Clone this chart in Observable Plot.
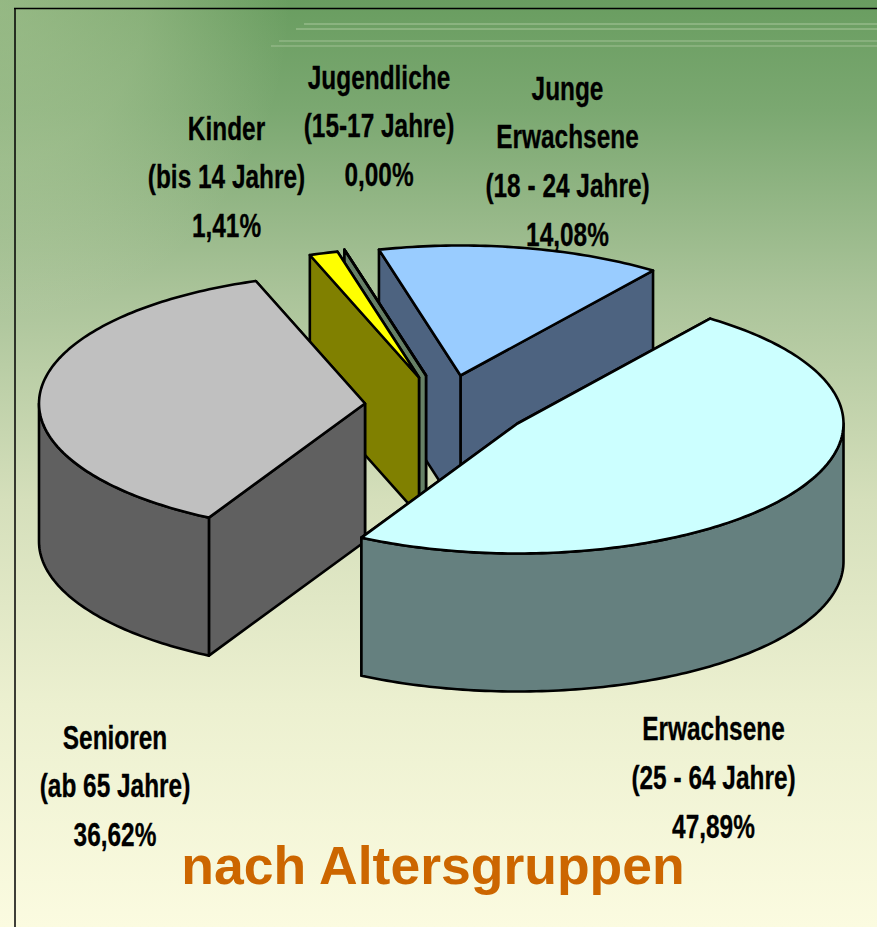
<!DOCTYPE html>
<html lang="de">
<head>
<meta charset="utf-8">
<title>nach Altersgruppen</title>
<script src="https://cdn.jsdelivr.net/npm/d3@7"></script>
<script src="https://cdn.jsdelivr.net/npm/@observablehq/plot@0.6"></script>
<style>
html,body{margin:0;padding:0;width:877px;height:927px;overflow:hidden}
body{background:
 radial-gradient(ellipse 290px 320px at 0 0, rgba(215,225,185,.40) 0%, rgba(215,225,185,.28) 50%, rgba(215,225,185,0) 100%),
 linear-gradient(to bottom,#699d60 0%,#7ba871 12%,#abc49a 32%,#d5dfbb 54%,#ecf0d0 76%,#fbfbe0 100%);}
svg{display:block}
</style>
</head>
<body>
<div id="chart"></div>
<script>
// Data, clockwise from the first slice
const categories = ["Erwachsene", "Senioren", "Kinder", "Jugendliche", "Junge Erwachsene"];
const percentValues = [47.89, 36.62, 1.41, 0.00, 14.08];
const valueLabels = ["47,89%", "36,62%", "1,41%", "0,00%", "14,08%"];
const labelLines = [
  "Erwachsene\n(25 - 64 Jahre)",
  "Senioren\n(ab 65 Jahre)",
  "Kinder\n(bis 14 Jahre)",
  "Jugendliche\n(15-17 Jahre)",
  "Junge\nErwachsene\n(18 - 24 Jahre)"
];
const topColors = ["#ccffff", "#c0c0c0", "#ffff00", "#99ccff", "#99ccff"];
const sideColors = ["#65807f", "#606060", "#808000", "#668066", "#4d6380"];
const chartTitle = "nach Altersgruppen";

// Layout
const W = 877, H = 927;
const rx = 326, ry = 130, depth = 138, startDeg = -53.8;
const centers = [[517,423],[364.5,403],[418.5,377],[425.5,375],[460,375]];
const labelAnchors = [[713,837],[114.5,845.5],[226,236.5],[378.5,185.5],[567,245]];

const rad = d => d * Math.PI / 180;
const pt = (c, a, dy = 0) => ({x: c[0] + rx * Math.cos(rad(a)), y: c[1] + ry * Math.sin(rad(a)) + dy});
const arc = (c, a0, a1, dy = 0) => {
  const n = Math.max(1, Math.ceil(Math.abs(a1 - a0) / 1));
  return d3.range(n + 1).map(i => pt(c, a0 + (a1 - a0) * i / n, dy));
};
const poly = (points, fill) => Plot.line(points, {
  x: "x", y: "y", curve: "linear-closed", fill, stroke: "#000",
  strokeWidth: 2.6, strokeLinejoin: "round"
});

// Slices are painted from back to front
const spans = [];
let cum = startDeg;
percentValues.forEach((v, i) => { spans[i] = [cum, cum + v * 3.6]; cum += v * 3.6; });
const paintOrder = [4, 3, 2, 1, 0];
const sliceMarks = paintOrder.flatMap(i => {
  const c = centers[i], [a0, a1] = spans[i], side = sideColors[i];
  const cen = {x: c[0], y: c[1]}, low = {x: c[0], y: c[1] + depth};
  const marks = [
    poly([cen, pt(c, a1), pt(c, a1, depth), low], side),
    poly([cen, pt(c, a0), pt(c, a0, depth), low], side)
  ];
  // Outer wall: only the front half of the ellipse faces the viewer
  const f0 = Math.max(a0, 0), f1 = Math.min(a1, 180);
  if (f1 > f0) marks.push(poly([...arc(c, f0, f1), ...arc(c, f1, f0, depth)], side));
  marks.push(poly([cen, ...arc(c, a0, a1)], topColors[i]));
  return marks;
});

const labels = categories.map((name, i) => ({
  name, text: labelLines[i] + "\n" + valueLabels[i],
  x: labelAnchors[i][0], y: labelAnchors[i][1]
}));

// The labels use a horizontally condensed face
const condense = (index, scales, values, dimensions, context, next) => {
  const g = next(index, scales, values, dimensions, context);
  g.querySelectorAll("text").forEach(t => {
    const tr = t.getAttribute("transform") || "";
    t.setAttribute("transform", tr + " scale(0.74,1)");
  });
  return g;
};

const plot = Plot.plot({
  width: W, height: H, margin: 0,
  style: {background: "transparent"},
  x: {domain: [0, W], range: [0, W], axis: null},
  y: {domain: [0, H], range: [0, H], axis: null},
  marks: [
    Plot.ruleY([23.5, 28.5], {x1: d => d === 23.5 ? 304 : 296, x2: W, stroke: "#a9c79c", strokeWidth: 1}),
    Plot.ruleY([40.5, 45.5], {x1: d => d === 40.5 ? 279 : 271, x2: W, stroke: "#a0c094", strokeWidth: 1}),
    Plot.ruleY([8], {x1: 14, x2: W, stroke: "#000", strokeWidth: 1.5}),
    Plot.ruleX([14.5], {y1: 8, y2: H, stroke: "#000", strokeWidth: 1.5}),
    ...sliceMarks,
    Plot.text(labels, {
      x: "x", y: "y", text: "text", lineAnchor: "bottom", lineHeight: 1.47,
      textAnchor: "middle", fontFamily: "'Liberation Sans',Arial,sans-serif",
      fontWeight: "bold", fontSize: 33, fill: "#000", stroke: "#000", strokeWidth: 0.3,
      render: condense
    }),
    Plot.text([chartTitle], {
      x: () => 432.5, y: () => 883, lineAnchor: "bottom", textAnchor: "middle",
      fontFamily: "'Liberation Sans',Arial,sans-serif", fontWeight: "bold",
      fontSize: 53.5, fill: "#cc6600"
    })
  ]
});
document.getElementById("chart").append(plot);
</script>
</body>
</html>
